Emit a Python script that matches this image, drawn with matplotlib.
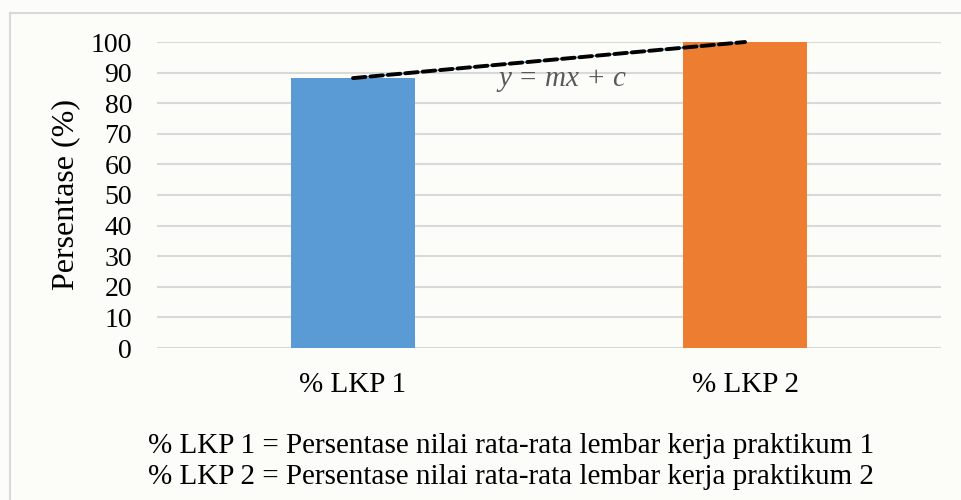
import numpy as np
import matplotlib
matplotlib.use('Agg')
import matplotlib.pyplot as plt
from matplotlib.lines import Line2D

categories = ['% LKP 1', '% LKP 2']
values = [88.2, 100]
bar_colors = ['#5b9bd5', '#ed7d31']
yticks = list(range(0, 101, 10))
caption = ['% LKP 1 = Persentase nilai rata-rata lembar kerja praktikum 1',
	'% LKP 2 = Persentase nilai rata-rata lembar kerja praktikum 2']

plt.rcParams['font.family'] = ['Liberation Serif', 'DejaVu Serif']

bg = '#fcfdf8'
fig = plt.figure(figsize = (9.61, 5.0), dpi = 100, facecolor = bg)
ax = fig.add_axes([157/961, 152/500, 784/961, 306/500])
ax.set_facecolor(bg)

x = np.arange(len(categories))
ax.bar(x, values, width = 0.314, color = bar_colors, zorder = 2)

# trend line over the tops
m, c = np.polyfit(x, values, 1)
ax.plot(x, values, color = '#5b9bd5', lw = 1.2, zorder = 3, clip_on = False)
ax.plot(x, m * x + c, color = 'black', lw = 2.8, dashes = (3.2, 1.3),
	zorder = 4, clip_on = False, solid_capstyle = 'round', dash_capstyle = 'round')
ax.text(0.372, 88.0, 'y = mx + c', style = 'italic', color = '#595959',
	fontsize = 21, ha = 'left', va = 'center')

ax.set_xlim(-0.5, 1.5)
ax.set_ylim(0, 100)
ax.set_yticks(yticks)
ax.set_xticks(x)
ax.set_xticklabels(categories)
ax.tick_params(axis = 'y', length = 0, labelsize = 20, pad = 18)
ax.tick_params(axis = 'x', length = 0, labelsize = 21, pad = 17)
ax.yaxis.grid(True, color = '#d9d9d9', lw = 1.5, zorder = 0)
for s in ax.spines.values():
	s.set_visible(False)

fig.text(66/961, 1 - 195/500, 'Persentase (%)', rotation = 90, fontsize = 23,
	ha = 'center', va = 'center')

fig.text(148/961, 1 - 446/500, caption[0], fontsize = 21, ha = 'left', va = 'center')
fig.text(148/961, 1 - 477/500, caption[1], fontsize = 21, ha = 'left', va = 'center')

# light frame around the chart (cut at right and bottom)
fig.add_artist(Line2D([10/961, 10/961], [0, 1 - 13/500], color = '#d9d9d9', lw = 1.5))
fig.add_artist(Line2D([10/961, 1], [1 - 13/500, 1 - 13/500], color = '#d9d9d9', lw = 1.5))

fig.savefig('out.png', dpi = 100, facecolor = bg)
